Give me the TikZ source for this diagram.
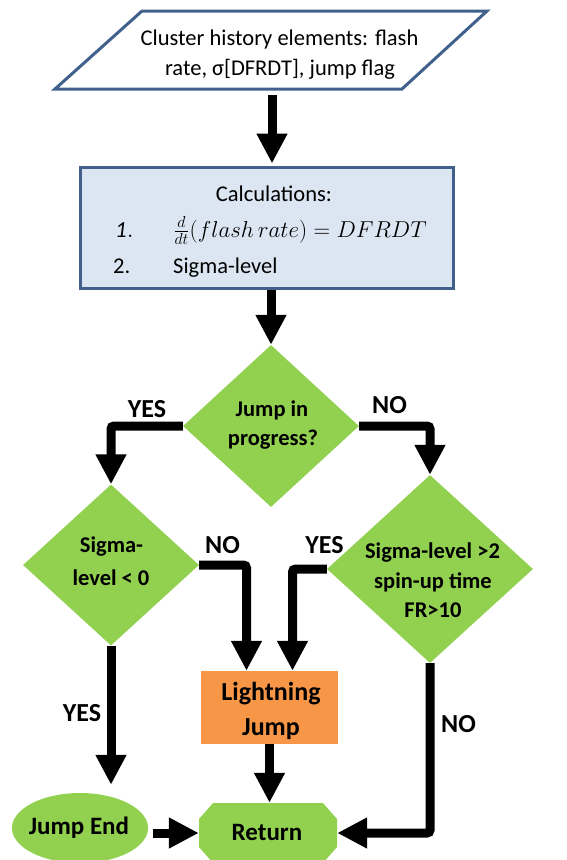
\documentclass[tikz,border=0pt]{standalone}
\usepackage{graphicx}
\usepackage{fontspec}
\setmainfont{Carlito}
\usetikzlibrary{arrows.meta,shapes.geometric}
\definecolor{bord}{HTML}{41618C}
\definecolor{boxfill}{HTML}{DCE6F2}
\definecolor{grn}{HTML}{92D050}
\definecolor{orng}{HTML}{F79646}
\begin{document}
\begin{tikzpicture}[x=1pt,y=-1pt,
  flow/.style={line width=9pt,-{Triangle[width=29pt,length=30pt]},rounded corners=3pt},
  txt/.style={anchor=base,inner sep=0pt,font=\fontsize{22.5}{27}\selectfont},
  btxt/.style={anchor=base,inner sep=0pt,font=\fontsize{22.5}{27}\selectfont\bfseries},
  lbl/.style={anchor=base,inner sep=0pt,font=\fontsize{26}{30}\selectfont\bfseries},
  big/.style={anchor=base,inner sep=0pt,font=\fontsize{25}{30}\selectfont\bfseries},
  dia/.style={diamond,fill=grn,inner sep=0pt},
]
\useasboundingbox (0,0) rectangle (566,860);
% input parallelogram
\coordinate (p1) at (142,11);
\coordinate (p2) at (487,11);
\coordinate (p3) at (402,89);
\coordinate (p4) at (55,89);
\draw[bord,line width=3pt,fill=white,line join=miter] (p1) -- (p2) -- (p3) -- (p4) -- cycle;
\node[rectangle,minimum width=260pt,minimum height=78pt,inner sep=0pt] (inp) at (272,50) {};
\node[txt] (t1) at (279.5,45) {Cluster history elements: flash};
\node[txt] (t2) at (280,75) {rate, σ[DFRDT], jump flag};
% calculations box
\node[rectangle,draw=bord,line width=3pt,fill=boxfill,minimum width=373pt,minimum height=121pt,inner sep=0pt] (calc) at (266.5,227.5) {};
\node[txt] (c0) at (274,201) {Calculations:};
\node[txt,anchor=base west,font=\fontsize{23}{30}\selectfont] (c1n) at (115,237) {$\mathit{1.}$};
\node[txt,anchor=base west,font=\fontsize{20.74}{30}\selectfont] (c1) at (173,237) {\scalebox{1.11}{$\frac{d}{dt}(flash\,rate)=DFRDT$}};
\node[txt,anchor=base west] (c2n) at (113,273) {2.};
\node[txt,anchor=base west] (c2) at (173,273) {Sigma-level};
% diamonds
\node[dia,minimum width=176pt,minimum height=162pt] (d1) at (271,426) {};
\node[btxt] (d1a) at (272,416) {Jump in};
\node[btxt] (d1b) at (273,445) {progress?};
\node[dia,minimum width=176pt,minimum height=161pt] (d2) at (111,565) {};
\node[btxt] (d2a) at (111.5,552) {Sigma-};
\node[btxt] (d2b) at (111,585) {level < 0};
\node[dia,minimum width=206pt,minimum height=188pt] (d3) at (430,569) {};
\node[btxt] (d3a) at (432.5,558) {Sigma-level >2};
\node[btxt] (d3b) at (433,588) {spin-up time};
\node[btxt] (d3c) at (433,617) {FR>10};
% lightning jump
\node[rectangle,fill=orng,minimum width=137pt,minimum height=73pt,inner sep=0pt] (lj) at (269.5,707.5) {};
\node[lbl] (lja) at (271,700) {Lightning};
\node[lbl] (ljb) at (271,735) {Jump};
% jump end
\node[ellipse,fill=grn,minimum width=136pt,minimum height=70pt,inner sep=0pt] (je) at (80,828) {};
\node[big] (jet) at (79,834) {Jump End};
% return (octagon)
\fill[grn] (213,803) -- (323,803) -- (337,819) -- (337,847) -- (323,863) -- (213,863) -- (199,847) -- (199,819) -- cycle;
\node[rectangle,minimum width=138pt,minimum height=60pt,inner sep=0pt] (ret) at (268,833) {};
\node[big] (rett) at (267,840) {Return};
% labels
\node[lbl] (l1) at (147,417) {YES};
\node[lbl] (l2) at (389.5,413) {NO};
\node[lbl] (l3) at (222.5,553) {NO};
\node[lbl] (l4) at (324.5,553) {YES};
\node[lbl] (l5) at (82,721) {YES};
\node[lbl] (l6) at (458.5,732) {NO};
% connectors
\draw[flow] ([yshift=-6pt]inp.south) -- ([yshift=2pt]inp.south |- calc.north);
\draw[flow] (d1.north |- calc.south) -- (d1.north);
\draw[flow] (d1.west) -| (d2.north);
\draw[flow] (d1.east) -| (d3.north);
\draw[flow] (d2.east) -| ([xshift=-23pt]lj.north);
\draw[flow] (d3.west) -| ([xshift=23pt]lj.north);
\draw[flow] (lj.south) -- (lj.south |- ret.north);
\draw[flow] (d2.south) -- ([yshift=8pt]d2.south |- je.north);
\draw[flow] ([xshift=5pt]je.east |- ret.west) -- (ret.west);
\draw[flow] (d3.south) |- (ret.east);
\end{tikzpicture}
\end{document}
